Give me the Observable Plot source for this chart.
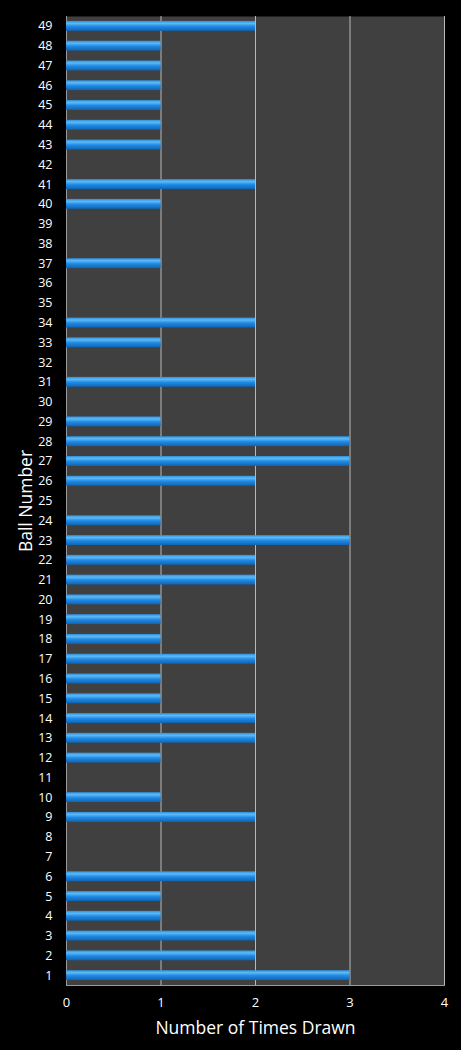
<!DOCTYPE html>
<html>
<head>
<meta charset="utf-8">
<script src="https://cdn.jsdelivr.net/npm/d3@7"></script>
<script src="https://cdn.jsdelivr.net/npm/@observablehq/plot@0.6"></script>
<style>
  html, body { margin: 0; padding: 0; background: #000; }
  #chart { width: 461px; height: 1050px; }
</style>
</head>
<body>
<div id="chart"></div>
<script>
const balls = d3.range(1, 50);
const timesDrawn = [3,2,2,1,1,2,0,0,2,1, 0,1,2,2,1,1,2,1,1,1, 2,2,3,1,0,2,3,3,1,0, 2,0,1,2,0,0,1,0,0,1, 2,0,1,1,1,1,1,1,2];
const xTicks = [0, 1, 2, 3, 4];

const data = balls.map((b, i) => ({ball: b, count: timesDrawn[i]}));

const gradientMark = () => {
  const defs = d3.create("svg:defs");
  const g = defs.append("linearGradient").attr("id", "barGrad").attr("x1", 0).attr("y1", 0).attr("x2", 0).attr("y2", 1);
  g.append("stop").attr("offset", "0%").attr("stop-color", "#2f8fdc");
  g.append("stop").attr("offset", "25%").attr("stop-color", "#5cbaf5");
  g.append("stop").attr("offset", "55%").attr("stop-color", "#1f8ae6");
  g.append("stop").attr("offset", "100%").attr("stop-color", "#1264b0");
  return defs.node();
};

const chart = Plot.plot({
  width: 461,
  height: 1050,
  marginLeft: 66,
  marginRight: 17,
  marginTop: 16,
  marginBottom: 65,
  style: { background: "#000", color: "#fff", fontFamily: "'Open Sans', 'DejaVu Sans', sans-serif" },
  x: { domain: [0, 4], ticks: xTicks, tickFormat: "d", label: null },
  y: { domain: balls.slice().reverse(), paddingInner: 0.5, paddingOuter: 0.25, label: null },
  marks: [
    gradientMark,
    Plot.frame({ fill: "#404040", stroke: null }),
    Plot.ruleX(xTicks.slice(1), { stroke: "#b8b8b8", strokeWidth: 1 }),
    Plot.frame({ anchor: "left", stroke: "#9a9a9a" }),
    Plot.frame({ anchor: "bottom", stroke: "#9a9a9a" }),
    Plot.barX(data, { x: "count", y: "ball", fill: "url(#barGrad)" }),
    Plot.axisX({ ticks: xTicks, tickFormat: "d", tickSize: 0, tickPadding: 12, fontSize: 13, fill: "#fff", label: null }),
    Plot.axisY({ tickSize: 0, tickPadding: 14, fontSize: 12.5, fill: "#fff", label: null }),
    Plot.text(["Number of Times Drawn"], { frameAnchor: "bottom", dy: 48, fontSize: 17.5, fill: "#fff" }),
    Plot.text(["Ball Number"], { frameAnchor: "left", dx: -40, rotate: -90, textAnchor: "middle", fontSize: 17.5, fill: "#fff" })
  ]
});
document.getElementById("chart").appendChild(chart);
</script>
</body>
</html>
